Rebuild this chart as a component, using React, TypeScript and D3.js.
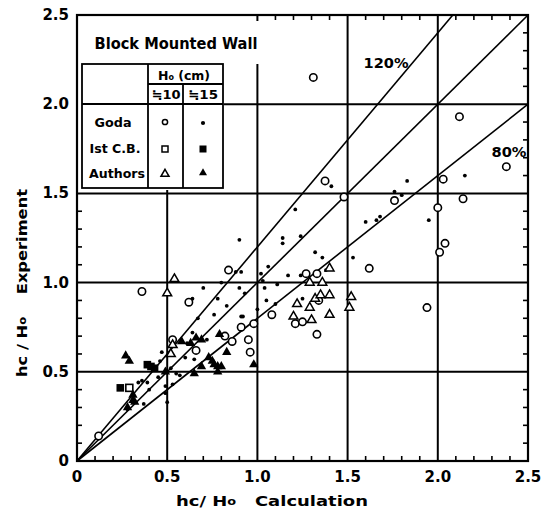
import React from "react";
import * as d3 from "d3";

const W = 550;
const H = 513;

// Goda, H0 ≈ 10 cm (open circles)
const godaOpen: [number, number][] = [
  [0.12, 0.14], [0.36, 0.95], [0.53, 0.68], [0.62, 0.89], [0.84, 1.07], [0.66, 0.62],
  [0.82, 0.70], [0.86, 0.67], [0.91, 0.75], [0.98, 0.77], [0.95, 0.68], [0.96, 0.61],
  [1.08, 0.82], [1.21, 0.77], [1.25, 0.78], [1.33, 0.71], [1.27, 1.05], [1.33, 1.05],
  [1.34, 0.90], [1.375, 1.57], [1.48, 1.48], [1.62, 1.08], [1.76, 1.46], [1.94, 0.86],
  [2.0, 1.42], [2.01, 1.17], [2.04, 1.22], [2.03, 1.58], [2.14, 1.47], [2.38, 1.65],
  [2.12, 1.93], [1.31, 2.15],
];

// Goda, H0 ≈ 15 cm (small filled dots)
const godaFilled: [number, number][] = [
  [1.41, 1.54], [1.83, 1.57], [1.76, 1.51], [1.8, 1.49], [1.6, 1.34], [1.66, 1.35],
  [1.68, 1.37], [2.15, 1.6], [1.95, 1.35], [1.53, 1.14], [1.21, 1.41], [1.14, 1.25],
  [1.14, 1.22], [1.24, 1.26], [1.32, 1.17], [1.36, 1.14], [1.06, 1.09], [1.17, 1.04],
  [1.24, 1.04], [1.38, 1.07], [1.03, 1.01], [1.11, 0.99], [1.04, 0.97], [1.05, 0.9],
  [1.1, 0.88], [1.0, 0.85], [0.92, 0.81], [1.25, 0.91], [1.02, 1.05],
  [0.9, 1.24], [0.88, 1.06], [0.91, 1.06], [0.7, 0.97], [0.64, 0.91], [0.8, 1.0],
  [0.78, 0.91], [0.67, 0.8], [0.76, 0.82], [0.64, 0.72], [0.61, 0.66], [0.91, 0.81],
  [0.93, 0.94], [0.9, 0.97], [0.83, 0.87], [0.72, 0.68], [0.65, 0.57], [0.6, 0.58],
  [0.55, 0.49], [0.53, 0.43], [0.49, 0.38], [0.49, 0.42], [0.4, 0.4], [0.39, 0.44],
  [0.37, 0.32], [0.46, 0.56], [0.47, 0.61], [0.52, 0.52], [0.34, 0.44], [0.5, 0.33],
  [0.57, 0.48], [0.45, 0.47], [0.36, 0.45], [0.28, 0.29],
];

// 1st C.B. (open / filled squares)
const istOpen: [number, number][] = [[0.29, 0.41]];
const istFilled: [number, number][] = [[0.24, 0.41], [0.39, 0.54], [0.41, 0.53], [0.43, 0.52]];

// Authors (open / filled triangles)
const authorsOpen: [number, number][] = [
  [0.54, 1.02], [0.5, 0.94], [0.53, 0.65], [0.52, 0.6], [1.4, 1.08], [1.29, 1.0],
  [1.36, 1.0], [1.22, 0.88], [1.29, 0.86], [1.32, 0.91], [1.35, 0.93], [1.4, 0.93],
  [1.2, 0.81], [1.3, 0.79], [1.4, 0.82], [1.52, 0.92], [1.51, 0.86],
];
const authorsFilled: [number, number][] = [
  [0.27, 0.59], [0.29, 0.56], [0.31, 0.37], [0.31, 0.34], [0.32, 0.33], [0.28, 0.3],
  [0.49, 0.5], [0.58, 0.67], [0.63, 0.66], [0.66, 0.69], [0.69, 0.68], [0.79, 0.71],
  [0.83, 0.61], [0.73, 0.58], [0.75, 0.56], [0.76, 0.54], [0.78, 0.53], [0.8, 0.53],
  [0.69, 0.53], [0.65, 0.49], [0.78, 0.5], [0.98, 0.54],
];

const ratioLines = [
  { k: 1.2, label: "120%" },
  { k: 1.0, label: "" },
  { k: 0.8, label: "80%" },
];
const majorTicks = [0, 0.5, 1.0, 1.5, 2.0, 2.5];
const tickLabels = ["0", "0.5", "1.0", "1.5", "2.0", "2.5"];
const legendRows = ["Goda", "Ist C.B.", "Authors"];

const FONT = "'DejaVu Sans', sans-serif";

export default function App() {
  const x = d3.scaleLinear().domain([0, 2.5]).range([77, 528]);
  const y = d3.scaleLinear().domain([0, 2.5]).range([461, 15]);
  const [x0, x1] = x.range();
  const [y0, y1] = y.range();

  const minor = d3.range(1, 25).map((i) => i / 10).filter((v) => Math.abs(v * 2 - Math.round(v * 2)) > 1e-6);
  const grid = [0.5, 1.0, 1.5, 2.0];
  const triOpen = d3.symbol(d3.symbolTriangle, 34)()!;
  const triFill = d3.symbol(d3.symbolTriangle, 38)()!;
  const triLegend = d3.symbol(d3.symbolTriangle, 28)()!;
  const tl = 5;

  return (
    <svg width={W} height={H} style={{ position: "absolute", left: 0, top: 0, background: "#fff" }}>
      <rect x={0} y={0} width={W} height={H} fill="#fff" />
      {/* grid */}
      {grid.map((g) => (
        <g key={g}>
          <line x1={x(g)} x2={x(g)} y1={y0} y2={y1} stroke="#000" strokeWidth={2} />
          <line x1={x0} x2={x1} y1={y(g)} y2={y(g)} stroke="#000" strokeWidth={2} />
        </g>
      ))}
      {/* minor ticks */}
      {minor.map((m) => (
        <g key={m} stroke="#000" strokeWidth={1.6}>
          <line x1={x(m)} x2={x(m)} y1={y0} y2={y0 - tl} />
          <line x1={x(m)} x2={x(m)} y1={y1} y2={y1 + tl} />
          <line x1={x0} x2={x0 + tl} y1={y(m)} y2={y(m)} />
          <line x1={x1} x2={x1 - tl} y1={y(m)} y2={y(m)} />
        </g>
      ))}
      {/* legend backdrop */}
      <rect x={78} y={21} width={184} height={43} fill="#fff" />
      <rect x={78} y={16} width={176} height={6} fill="#fff" />
      <rect x={78} y={63} width={146} height={127} fill="#fff" />

      {/* ratio lines */}
      {ratioLines.map((r) => {
        const xe = Math.min(2.5, 2.5 / r.k);
        return (
          <line key={r.k} x1={x(0)} y1={y(0)} x2={x(xe)} y2={y(xe * r.k)} stroke="#000" strokeWidth={1.6} />
        );
      })}
      <text x={386} y={63} fontFamily={FONT} fontWeight="bold" fontSize={14} textAnchor="middle" dominantBaseline="central" textLength={45} lengthAdjust="spacingAndGlyphs">120%</text>
      <text x={509} y={152} fontFamily={FONT} fontWeight="bold" fontSize={14} textAnchor="middle" dominantBaseline="central" textLength={35} lengthAdjust="spacingAndGlyphs">80%</text>

      {/* data */}
      {godaFilled.map((d, i) => (
        <circle key={"gf" + i} cx={x(d[0])} cy={y(d[1])} r={1.9} fill="#000" />
      ))}
      {godaOpen.map((d, i) => (
        <circle key={"go" + i} cx={x(d[0])} cy={y(d[1])} r={3.7} fill="#fff" stroke="#000" strokeWidth={1.6} />
      ))}
      {istOpen.map((d, i) => (
        <rect key={"io" + i} x={x(d[0]) - 3.5} y={y(d[1]) - 3.5} width={7} height={7} fill="#fff" stroke="#000" strokeWidth={1.6} />
      ))}
      {istFilled.map((d, i) => (
        <rect key={"if" + i} x={x(d[0]) - 3.8} y={y(d[1]) - 3.8} width={7.6} height={7.6} fill="#000" />
      ))}
      {authorsOpen.map((d, i) => (
        <path key={"ao" + i} d={triOpen} transform={`translate(${x(d[0])},${y(d[1])})`} fill="#fff" stroke="#000" strokeWidth={1.5} />
      ))}
      {authorsFilled.map((d, i) => (
        <path key={"af" + i} d={triFill} transform={`translate(${x(d[0])},${y(d[1])})`} fill="#000" />
      ))}

      {/* legend */}
      <text x={176} y={43} fontFamily={FONT} fontWeight="bold" fontSize={16} textAnchor="middle" dominantBaseline="central" textLength={163} lengthAdjust="spacingAndGlyphs">Block Mounted Wall</text>
      <g stroke="#000" strokeWidth={1.8} fill="none">
        <rect x={82} y={64} width={141} height={124} />
        <line x1={148} x2={148} y1={64} y2={188} />
        <line x1={183} x2={183} y1={84} y2={188} />
        <line x1={148} x2={223} y1={84} y2={84} />
        <line x1={82} x2={223} y1={104} y2={104} />
      </g>
      <text x={184} y={75} fontFamily={FONT} fontWeight="bold" fontSize={12.5} textAnchor="middle" dominantBaseline="central">
        H<tspan fontSize={8} dy={2}>o</tspan><tspan dy={-2}> (cm)</tspan>
      </text>
      <text x={166} y={95} fontFamily={FONT} fontWeight="bold" fontSize={12} textAnchor="middle" dominantBaseline="central" textLength={29} lengthAdjust="spacingAndGlyphs">≒10</text>
      <text x={203} y={95} fontFamily={FONT} fontWeight="bold" fontSize={12} textAnchor="middle" dominantBaseline="central" textLength={30} lengthAdjust="spacingAndGlyphs">≒15</text>
      {legendRows.map((r, i) => {
        const ry = [122, 148, 173][i];
        return (
          <text key={r} x={[113, 115, 117][i]} y={ry} fontFamily={FONT} fontWeight="bold" fontSize={13} textAnchor="middle" dominantBaseline="central" textLength={[37, 51, 56][i]} lengthAdjust="spacingAndGlyphs">{r}</text>
        );
      })}
      <circle cx={165} cy={122} r={2.6} fill="#fff" stroke="#000" strokeWidth={1.5} />
      <circle cx={203} cy={123} r={2.1} fill="#000" />
      <rect x={162} y={146} width={6} height={6} fill="#fff" stroke="#000" strokeWidth={1.5} />
      <rect x={199.5} y={145.5} width={7} height={7} fill="#000" />
      <path d={triLegend} transform="translate(165,174)" fill="#fff" stroke="#000" strokeWidth={1.5} />
      <path d={triLegend} transform="translate(203,173)" fill="#000" />

      {/* border */}
      <rect x={x0} y={y1} width={x1 - x0} height={y0 - y1} fill="none" stroke="#000" strokeWidth={2.2} />

      {/* tick labels */}
      {majorTicks.map((t, i) => (
        <text key={"xl" + t} x={x(t)} y={477} fontFamily={FONT} fontWeight="bold" fontSize={15} textAnchor="middle" dominantBaseline="central">{tickLabels[i]}</text>
      ))}
      {majorTicks.map((t, i) => (
        <text key={"yl" + t} x={69} y={y(t)} fontFamily={FONT} fontWeight="bold" fontSize={15} textAnchor="end" dominantBaseline="central">{tickLabels[i]}</text>
      ))}

      {/* axis titles */}
      <text x={272} y={501} fontFamily={FONT} fontWeight="bold" fontSize={14} textAnchor="middle" dominantBaseline="central" textLength={192} lengthAdjust="spacingAndGlyphs" xmlSpace="preserve">
        hc/ H<tspan fontSize={10}>o</tspan>{"   "}Calculation
      </text>
      <text transform="translate(22,283) rotate(-90)" fontFamily={FONT} fontWeight="bold" fontSize={14} textAnchor="middle" dominantBaseline="central" textLength={188} lengthAdjust="spacingAndGlyphs" xmlSpace="preserve">
        hc / H<tspan fontSize={10}>o</tspan>{"    "}Experiment
      </text>
    </svg>
  );
}
